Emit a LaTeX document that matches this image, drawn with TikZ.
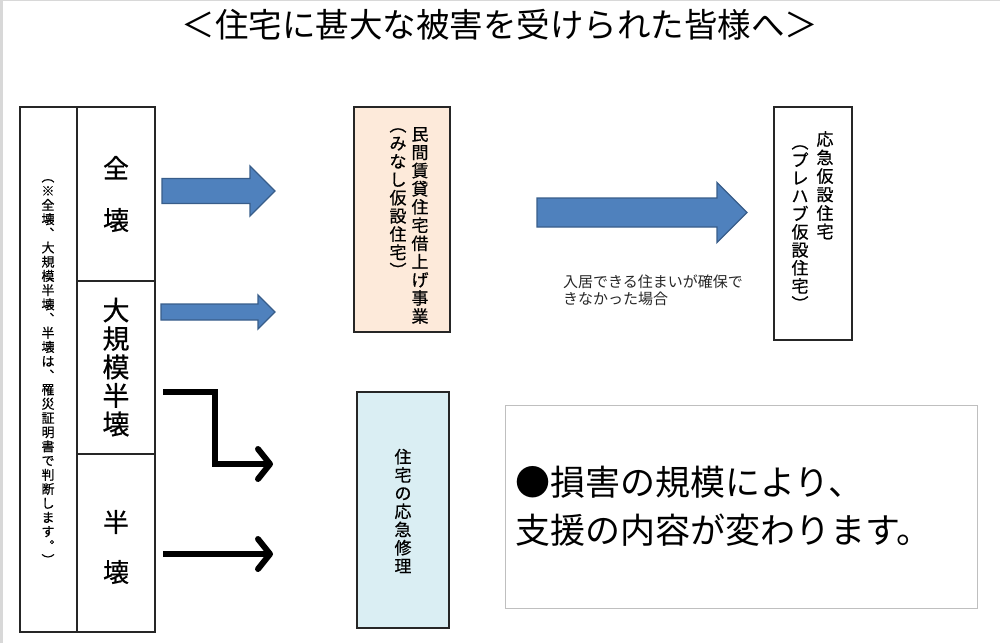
\documentclass[tikz,border=0pt]{standalone}
\usepackage{fontspec}
\setmainfont{Noto Sans CJK JP}
\newfontfamily\heavyjp[FakeBold=0.6]{Noto Sans CJK JP}
\usetikzlibrary{arrows.meta}
\definecolor{arrowblue}{HTML}{4F81BD}
\definecolor{arrowedge}{HTML}{385D8A}
\definecolor{peach}{HTML}{FDEADA}
\definecolor{paleblue}{HTML}{DAEEF3}
\definecolor{framegray}{HTML}{BFBFBF}
\newcommand{\fs}[2]{\fontsize{#1pt}{#2pt}\selectfont}
% block arrow: x start, x tip, x head, y, shaft half, head half
\newcommand{\blockarrow}[6]{%
  \draw[blockarr] (#1,#4-#5) -- (#3,#4-#5) -- (#3,#4-#6) -- (#2,#4)
    -- (#3,#4+#6) -- (#3,#4+#5) -- (#1,#4+#5) -- cycle;}

\begin{document}
\begin{tikzpicture}[x=1pt, y=-1pt,
  box/.style={draw=black!85, line width=1.2pt},
  vcol/.style={align=center, inner sep=0pt},
  blockarr/.style={fill=arrowblue, draw=arrowedge, line width=1.3pt, line join=miter},
  bentarr/.style={line width=6pt, line join=miter,
    -{Straight Barb[length=12pt, width=30pt, round]}}]
  \useasboundingbox (0,0) rectangle (1000,643);
  % frame edge
  \draw[framegray!60, line width=3pt] (1.5,643) -- (1.5,0);
  \draw[framegray!60, line width=1pt] (0,0.5) -- (1000,0.5);

  % Title
  \node (title) at (500,25) {\fs{33.5}{36}＜住宅に甚大な被害を受けられた皆様へ＞};

  % Left table
  \draw[box] (20,107) rectangle (155,632);
  \draw[box] (77,107) -- (77,632);
  \draw[box] (77,281) -- (155,281);
  \draw[box] (77,454) -- (155,454);
  \node[vcol, font=\heavyjp\fs{13}{14.2}] (note) at (48,372)
    {︵\\※\\全\\壊\\︑\\大\\規\\模\\半\\壊\\︑\\半\\壊\\は\\︑\\罹\\災\\証\\明\\書\\で\\判\\断\\し\\ま\\す\\︒\\︶};
  \node[vcol, font=\heavyjp\fs{26}{52}] (zenkai) at (116,194) {全\\壊};
  \node[vcol, font=\heavyjp\fs{27}{28.5}] (daikibo) at (116,367) {大\\規\\模\\半\\壊};
  \node[vcol, font=\heavyjp\fs{26}{50}] (hankai) at (116,547) {半\\壊};

  % Boxes
  \draw[box, fill=peach] (354,107) rectangle (450,332);
  \node[vcol, font=\heavyjp\fs{17}{18.2}, anchor=north] (minkan) at (420,127)
    {民\\間\\賃\\貸\\住\\宅\\借\\上\\げ\\事\\業};
  \node[vcol, font=\heavyjp\fs{17}{18.2}, anchor=north] (minashi) at (398,128)
    {︵\\み\\な\\し\\仮\\設\\住\\宅\\︶};

  \draw[box] (774,107) rectangle (852,340);
  \node[vcol, font=\heavyjp\fs{17}{18.5}, anchor=north] (oukyu) at (825,131)
    {応\\急\\仮\\設\\住\\宅};
  \node[vcol, font=\heavyjp\fs{17}{18}, anchor=north] (prefab) at (800,145)
    {︵\\プ\\レ\\ハ\\ブ\\仮\\設\\住\\宅\\︶};

  \draw[box, fill=paleblue] (357,392) rectangle (449,628);
  \node[vcol, font=\heavyjp\fs{17}{18.2}] (shuri) at (403,511)
    {住\\宅\\の\\応\\急\\修\\理};

  \draw[framegray, line width=1pt] (505,405) rectangle (977,608);
  \node[align=left, anchor=base west, inner sep=0pt, font=\fs{35}{48}] (msg) at (515,543)
    {●損害の規模により、\\支援の内容が変わります。};

  \node[align=left, anchor=base west, inner sep=0pt, font=\fs{15}{17}, black!85] (cond) at (563,304)
    {入居できる住まいが確保で\\きなかった場合};

  % Block arrows
  \blockarrow{162}{275}{250}{191}{12.5}{25}
  \blockarrow{161}{275}{258}{312}{8}{17}
  \blockarrow{537}{747}{717}{212.5}{14.5}{30}

  % Bent arrows
  \coordinate (b1s) at (163,392);
  \coordinate (b1e) at (273,464);
  \coordinate (b2s) at (163,554);
  \coordinate (b2e) at (273,554);
  \draw[bentarr] (b1s) -| (215,464) -- (b1e);
  \draw[bentarr] (b2s) -- (b2e);
\end{tikzpicture}
\end{document}
